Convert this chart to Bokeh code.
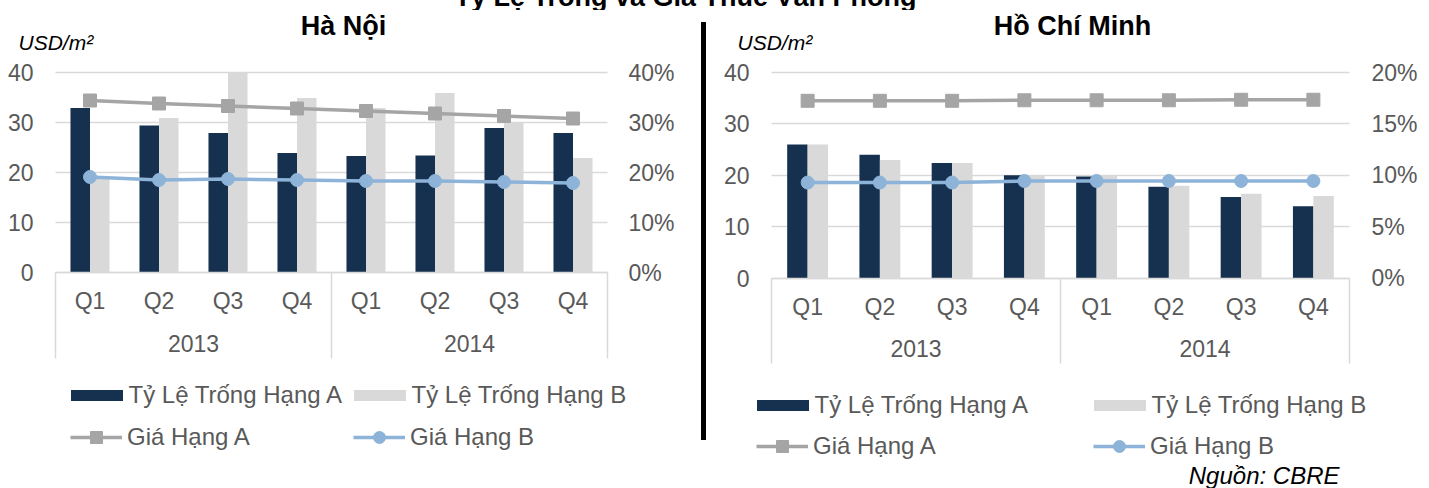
from bokeh.plotting import figure
from bokeh.models import (Range1d, LinearAxis, FixedTicker, Legend, LegendItem,
                          PrintfTickFormatter, Label, Spacer, ColumnDataSource)
from bokeh.transform import dodge
from bokeh.layouts import row, column
from bokeh.embed import file_html
from bokeh.resources import INLINE

# ---------------- data ----------------
quarters = ["Q1", "Q2", "Q3", "Q4", "Q1", "Q2", "Q3", "Q4"]
years = ["2013", "2014"]
usd_ticks = [0, 10, 20, 30, 40]

series_names = ["Tỷ Lệ Trống Hạng A", "Tỷ Lệ Trống Hạng B", "Giá Hạng A", "Giá Hạng B"]

# Hà Nội: vacancy (%), rent (USD/m2)
hn_vac_a = [32.9, 29.4, 27.9, 23.9, 23.3, 23.4, 28.9, 27.9]
hn_vac_b = [19.0, 30.9, 40.0, 34.9, 32.9, 35.9, 30.0, 22.9]
hn_rent_a = [34.4, 33.8, 33.3, 32.8, 32.3, 31.8, 31.3, 30.8]
hn_rent_b = [19.1, 18.5, 18.7, 18.5, 18.3, 18.3, 18.1, 17.9]
hn_pct_ticks = [0, 10, 20, 30, 40]

# Hồ Chí Minh
hcm_vac_a = [13.0, 12.0, 11.2, 10.0, 9.9, 8.9, 7.9, 7.0]
hcm_vac_b = [13.0, 11.5, 11.2, 10.0, 10.0, 9.0, 8.2, 8.0]
hcm_rent_a = [34.5, 34.5, 34.5, 34.6, 34.6, 34.6, 34.7, 34.7]
hcm_rent_b = [18.6, 18.6, 18.6, 18.9, 18.9, 18.9, 18.9, 18.9]
hcm_pct_ticks = [0, 5, 10, 15, 20]

main_title = "Tỷ Lệ Trống và Giá Thuê Văn Phòng"
source_text = "Nguồn: CBRE"
unit_text = "USD/m²"

# ---------------- style ----------------
FONT = "Liberation Sans"
DARK = "#16304F"
LIGHT = "#D9D9D9"
GRAY = "#A5A5A5"
BLUE = "#8DB3D8"
TXT = "#595959"
GRID = "#D9D9D9"
ROW_TOP = 10
PAGE_BOTTOM = 488
TOP_PAGE = 72
LABEL_DY = 8   # Label baseline correction


def make_chart(title, vac_a, vac_b, rent_a, rent_b, pct_ticks,
               fig_left_page, fig_width, frame_left_page, frame_right_page,
               zero_page, sep_len, q_standoff, y_standoff, left_standoff, right_standoff,
               title_cx, usd_left, legend_pos, source_note=None):
    n = len(quarters)
    chart_w = frame_right_page - frame_left_page
    cat_px = chart_w / n
    ppu = (zero_page - TOP_PAGE) / usd_ticks[-1]
    pct_scale = pct_ticks[-1] / usd_ticks[-1]

    def dx(px):
        return (px - frame_left_page) / cat_px

    def dy(py):
        return (zero_page - py) / ppu

    fig_h = PAGE_BOTTOM - ROW_TOP
    y0, y1 = dy(PAGE_BOTTOM), dy(ROW_TOP)
    p = figure(frame_width=fig_width, frame_height=fig_h, min_border=0,
               x_range=Range1d(dx(fig_left_page), dx(fig_left_page + fig_width)),
               y_range=Range1d(y0, y1),
               x_axis_location=None, y_axis_location=None,
               toolbar_location=None, output_backend="svg", tools="")
    p.extra_y_ranges = {"pct": Range1d(y0 * pct_scale, y1 * pct_scale)}
    p.outline_line_color = None
    p.xgrid.visible = False
    p.ygrid.visible = False

    # horizontal gridlines: inward ticks of a left axis, drawn beneath the glyphs
    gax = LinearAxis(ticker=FixedTicker(ticks=usd_ticks), fixed_location=0,
                     axis_line_color=None, major_tick_in=int(round(chart_w)), major_tick_out=0,
                     major_tick_line_color=GRID, major_tick_line_width=1.5,
                     minor_tick_line_color=None, major_label_text_color=None,
                     level="underlay")
    p.add_layout(gax, "left")

    centers = [i + 0.5 for i in range(n)]
    src = ColumnDataSource(dict(x=centers, va=vac_a, vb=vac_b, ra=rent_a, rb=rent_b))
    bw = 0.283
    r_va = p.vbar(x=dodge("x", -bw / 2, range=p.x_range), top="va", width=bw, source=src,
                  y_range_name="pct", fill_color=DARK, line_color=None)
    r_vb = p.vbar(x=dodge("x", bw / 2, range=p.x_range), top="vb", width=bw, source=src,
                  y_range_name="pct", fill_color=LIGHT, line_color=None)
    r_la = p.line("x", "ra", source=src, line_color=GRAY, line_width=3.5)
    r_ma = p.scatter("x", "ra", source=src, marker="square", size=13,
                     fill_color=GRAY, line_color=GRAY)
    r_lb = p.line("x", "rb", source=src, line_color=BLUE, line_width=3.5)
    r_mb = p.scatter("x", "rb", source=src, marker="circle", size=13,
                     fill_color=BLUE, line_color=BLUE)

    # y axes
    yl = LinearAxis(ticker=FixedTicker(ticks=usd_ticks), fixed_location=0,
                    axis_line_color=None, major_tick_in=0, major_tick_out=0,
                    major_tick_line_color=None, minor_tick_line_color=None,
                    major_label_standoff=left_standoff,
                    major_label_text_font=FONT, major_label_text_font_size="23px",
                    major_label_text_color=TXT)
    p.add_layout(yl, "left")
    yr = LinearAxis(y_range_name="pct", ticker=FixedTicker(ticks=pct_ticks), fixed_location=n,
                    formatter=PrintfTickFormatter(format="%d%%"), axis_line_color=None,
                    major_tick_in=0, major_tick_out=0,
                    major_tick_line_color=None, minor_tick_line_color=None,
                    major_label_standoff=right_standoff,
                    major_label_text_font=FONT, major_label_text_font_size="23px",
                    major_label_text_color=TXT)
    p.add_layout(yr, "right")

    # x axes (quarters, years, group separators) fixed at y = 0
    per_year = n // len(years)
    xq = LinearAxis(ticker=FixedTicker(ticks=centers), fixed_location=0, bounds=(0, n),
                    major_label_overrides={c: q for c, q in zip(centers, quarters)},
                    axis_line_color=GRID, axis_line_width=1.5,
                    major_tick_line_color=None, minor_tick_line_color=None,
                    major_label_standoff=q_standoff,
                    major_label_text_font=FONT, major_label_text_font_size="23px",
                    major_label_text_color=TXT)
    p.add_layout(xq, "below")
    ycent = [per_year * (k + 0.5) for k in range(len(years))]
    xy = LinearAxis(ticker=FixedTicker(ticks=ycent), fixed_location=0,
                    major_label_overrides={c: y for c, y in zip(ycent, years)},
                    axis_line_color=None, major_tick_line_color=None,
                    minor_tick_line_color=None, major_label_standoff=y_standoff,
                    major_label_text_font=FONT, major_label_text_font_size="23px",
                    major_label_text_color=TXT)
    p.add_layout(xy, "below")
    edges = [per_year * k for k in range(len(years) + 1)]
    xs = LinearAxis(ticker=FixedTicker(ticks=edges), fixed_location=0,
                    axis_line_color=None, major_tick_line_color=GRID,
                    major_tick_line_width=1.5, major_tick_in=0, major_tick_out=sep_len,
                    minor_tick_line_color=None, major_label_text_color=None)
    p.add_layout(xs, "below")

    p.add_layout(Label(x=dx(title_cx), y=dy(33 - LABEL_DY), text=title, text_align="center",
                       text_baseline="alphabetic", text_font=FONT, text_font_size="27px",
                       text_font_style="bold", text_color="#000000"))
    p.add_layout(Label(x=dx(usd_left), y=dy(50 - LABEL_DY), text=unit_text, text_align="left",
                       text_baseline="alphabetic", text_font=FONT, text_font_size="21px",
                       text_font_style="italic", text_color="#000000"))
    if source_note:
        p.add_layout(Label(x=dx(1339), y=dy(483 - LABEL_DY), text=source_note,
                           text_align="right", text_baseline="alphabetic", text_font=FONT,
                           text_font_size="24px", text_font_style="italic",
                           text_color="#000000"))

    # legends (one item each, placed in a 2x2 arrangement)
    rends = [[r_va], [r_vb], [r_la, r_ma], [r_lb, r_mb]]
    is_bar = [True, True, False, False]
    (c1, c2), (row1, row2) = legend_pos
    spots = [(c1, row1), (c2, row1), (c1, row2), (c2, row2)]
    item_h = 30
    for name, rr, bar, (gx, cy) in zip(series_names, rends, is_bar, spots):
        if bar:
            gw, gh, std, off = 65, 14, 0, 6.5
        else:
            gw, gh, std, off = 52, 30, 5, 0
        leg = Legend(items=[LegendItem(label=name, renderers=rr)],
                     location=(gx - off - fig_left_page, PAGE_BOTTOM - (cy + item_h / 2)),
                     padding=0, margin=0, spacing=0, border_line_color=None,
                     background_fill_alpha=0, glyph_width=gw, glyph_height=gh,
                     label_standoff=std, label_height=item_h, label_text_font=FONT,
                     label_text_font_size="24px", label_text_color=TXT)
        p.add_layout(leg)
    return p


left = make_chart("Hà Nội", hn_vac_a, hn_vac_b, hn_rent_a, hn_rent_b, hn_pct_ticks,
                  fig_left_page=0, fig_width=701, frame_left_page=55, frame_right_page=607,
                  zero_page=272, sep_len=86, q_standoff=9, y_standoff=56, left_standoff=22,
                  right_standoff=21, title_cx=343, usd_left=18,
                  legend_pos=((70, 353), (394.5, 436.7)))
right = make_chart("Hồ Chí Minh", hcm_vac_a, hcm_vac_b, hcm_rent_a, hcm_rent_b, hcm_pct_ticks,
                   fig_left_page=706, fig_width=723, frame_left_page=771, frame_right_page=1349,
                   zero_page=277.7, sep_len=85, q_standoff=10, y_standoff=56, left_standoff=22,
                   right_standoff=22, title_cx=1072, usd_left=737,
                   legend_pos=((756, 1093), (405, 446)), source_note=source_text)

# overall title strip (partly above the page top, as in the reference)
strip = figure(frame_width=1429, frame_height=22, min_border=0,
               x_range=Range1d(0, 1429), y_range=Range1d(0, 22),
               x_axis_location=None, y_axis_location=None,
               toolbar_location=None, output_backend="svg", tools="",
               margin=(-12, 0, 0, 0))
strip.outline_line_color = None
strip.xgrid.visible = False
strip.ygrid.visible = False
strip.add_layout(Label(x=685, y=6 + LABEL_DY, text=main_title, text_align="center",
                       text_baseline="alphabetic", text_font=FONT, text_font_size="27px",
                       text_font_style="bold", text_color="#000000"))

sep = Spacer(width=5, height=418, margin=(12, 0, 0, 0),
             styles={"background-color": "#000000"})

layout = column(strip, row(left, sep, right))

open("out.html", "w").write(file_html(layout, INLINE))
